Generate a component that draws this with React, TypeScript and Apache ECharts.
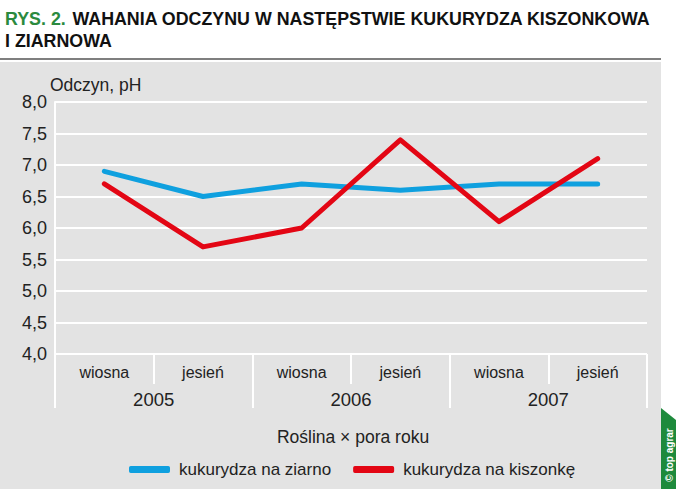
import React, { useEffect, useRef } from "react";
import * as echarts from "echarts";

const seasons = ["wiosna", "jesień", "wiosna", "jesień", "wiosna", "jesień"];
const years = ["2005", "2006", "2007"];
const ziarno = [6.9, 6.5, 6.7, 6.6, 6.7, 6.7];
const kiszonka = [6.7, 5.7, 6.0, 7.4, 6.1, 7.1];
const seriesNames = ["kukurydza na ziarno", "kukurydza na kiszonkę"];
const titleGreen = "RYS. 2.";
const titleLine1 = "WAHANIA ODCZYNU W NASTĘPSTWIE KUKURYDZA KISZONKOWA";
const titleLine2 = "I ZIARNOWA";

const BLUE = "#0fa0df";
const RED = "#e30614";
const GREY = "#e3e3e3";
const FONT = "'Liberation Sans', Arial, Helvetica, sans-serif";
const TITLE_SIZE = 18;

function titleScale(): number {
  try {
    const c = document.createElement("canvas").getContext("2d");
    if (!c) return 0.8;
    c.font = `bold ${TITLE_SIZE}px 'Liberation Sans', Arial, sans-serif`;
    const w = c.measureText(titleGreen + "  " + titleLine1).width;
    return w > 0 ? 650 / w : 0.8;
  } catch (e) {
    return 0.8;
  }
}

export default function App() {
  const ref = useRef<HTMLDivElement>(null);
  useEffect(() => {
    if (!ref.current) return;
    const chart = echarts.init(ref.current, null, { renderer: "svg" });
    const s = titleScale();
    chart.setOption({
      animation: false,
      backgroundColor: "#ffffff",
      textStyle: { fontFamily: FONT },
      graphic: [
        { type: "rect", z: -10, shape: { x: 0, y: 62, width: 661, height: 427 }, style: { fill: GREY } },
        { type: "line", shape: { x1: 0, y1: 59, x2: 661, y2: 59 }, style: { stroke: "#555", lineWidth: 1.5 } },
        {
          type: "text", x: 5, y: 8, scaleX: s,
          style: {
            text: `{g|${titleGreen}}  {b|${titleLine1}}\n{b|${titleLine2}}`,
            rich: {
              g: { fill: "#2b8a3e", fontSize: TITLE_SIZE, fontWeight: "bold", fontFamily: FONT, lineHeight: 22 },
              b: { fill: "#111", fontSize: TITLE_SIZE, fontWeight: "bold", fontFamily: FONT, lineHeight: 22 },
            },
          },
        },
        {
          type: "text", x: 50, y: 85,
          style: { text: "Odczyn, pH", fill: "#222", fontSize: 17.5, fontFamily: FONT, verticalAlign: "middle" },
        },
        {
          type: "text", x: 353, y: 437,
          style: { text: "Roślina × pora roku", fill: "#222", fontSize: 17.5, fontFamily: FONT, align: "center", verticalAlign: "middle" },
        },
        {
          type: "polygon",
          shape: { points: [[661, 408], [676, 420], [676, 489], [661, 489]] },
          style: { fill: "#1e8a3c" },
        },
        {
          type: "text", x: 669, y: 455, rotation: Math.PI / 2,
          style: { text: "© top agrar", fill: "#fff", fontSize: 10, fontWeight: "bold", fontFamily: FONT, align: "center", verticalAlign: "middle" },
        },
      ],
      legend: {
        left: 124, top: 456,
        itemWidth: 41, itemHeight: 7, itemGap: 22,
        icon: "roundRect",
        data: seriesNames,
        textStyle: { color: "#222", fontSize: 17, fontFamily: FONT, padding: [0, 0, 0, 4] },
      },
      grid: { left: 55, right: 29, top: 102, bottom: 135, containLabel: false },
      xAxis: [
        {
          type: "category", data: seasons, position: "bottom", boundaryGap: true,
          axisLine: { show: false },
          axisTick: { show: true, interval: 0, length: 30, lineStyle: { color: "#fff", width: 2 } },
          axisLabel: { interval: 0, color: "#222", fontSize: 16, margin: 10, fontFamily: FONT },
        },
        {
          type: "category", data: years, position: "bottom", boundaryGap: true,
          axisLine: { show: false },
          axisTick: { show: true, interval: 0, length: 54, lineStyle: { color: "#fff", width: 2 } },
          axisLabel: { interval: 0, color: "#222", fontSize: 18.5, margin: 36, fontFamily: FONT },
        },
      ],
      yAxis: {
        type: "value", min: 4, max: 8, interval: 0.5,
        axisLine: { show: true, lineStyle: { color: "#fff", width: 2 } },
        axisTick: { show: false },
        splitLine: { show: true, lineStyle: { color: "#fff", width: 2 } },
        axisLabel: {
          color: "#222", fontSize: 18, margin: 8, fontFamily: FONT,
          formatter: (v: number) => v.toFixed(1).replace(".", ","),
        },
      },
      series: [
        {
          name: seriesNames[0], type: "line", data: ziarno, xAxisIndex: 0, symbol: "none",
          color: BLUE, lineStyle: { width: 5, color: BLUE, cap: "round", join: "round" },
        },
        {
          name: seriesNames[1], type: "line", data: kiszonka, xAxisIndex: 0, symbol: "none",
          color: RED, lineStyle: { width: 5, color: RED, cap: "round", join: "round" },
        },
      ],
    });
    return () => chart.dispose();
  }, []);
  return <div ref={ref} style={{ position: "fixed", left: 0, top: 0, width: 676, height: 489 }} />;
}
